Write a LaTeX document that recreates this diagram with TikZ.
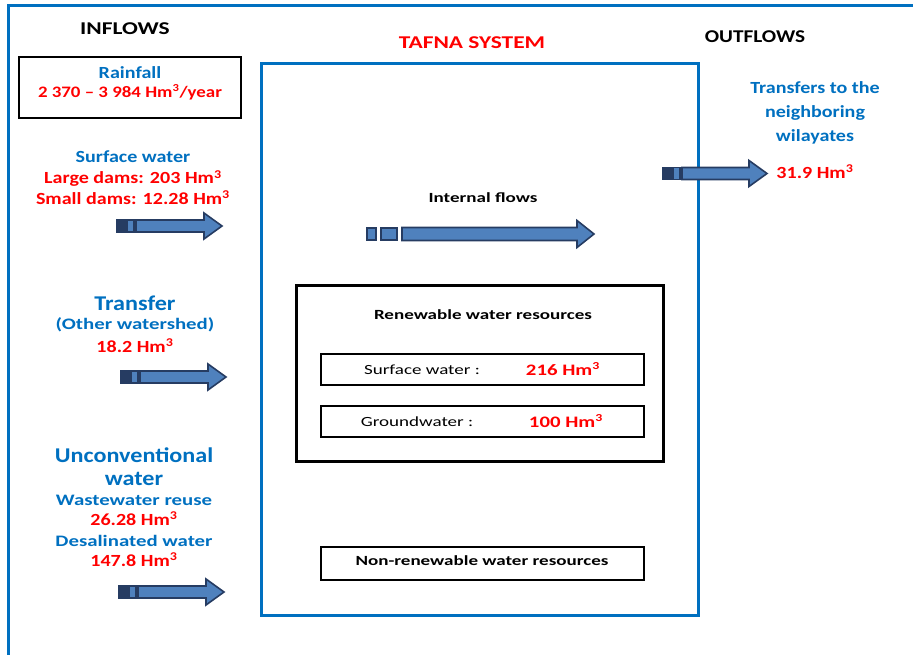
\documentclass[tikz,border=0pt]{standalone}
\usepackage{fontspec}
\setmainfont{Carlito}
\newfontfamily\wideA[FakeStretch=1.18, Ligatures=TeX]{Carlito}
\newfontfamily\wideB[FakeStretch=1.3, Ligatures=TeX]{Carlito}
\newfontfamily\wideC[FakeStretch=1.36, Ligatures=TeX]{Carlito}
\newfontfamily\wideD[FakeStretch=1.15, Ligatures=TeX]{Carlito}
\usepackage{xcolor}
\usepackage{tikz}
\usetikzlibrary{positioning}
\definecolor{tblue}{RGB}{0,112,192}
\definecolor{tred}{RGB}{255,0,0}
\definecolor{arrfill}{RGB}{79,129,189}
\definecolor{arrnavy}{RGB}{38,60,98}

\begin{document}
\begin{tikzpicture}[x=0.75pt, y=-0.75pt, inner sep=0pt,
    title/.style={font=\wideB\fontsize{13.5}{16}\selectfont\bfseries},
    lbl/.style={font=\wideA\fontsize{12.75}{15.4}\selectfont\bfseries, align=center},
    big/.style={font=\wideD\fontsize{15.75}{18}\selectfont\bfseries, text=tblue},
    mid/.style={font=\wideB\fontsize{12}{15}\selectfont\bfseries, text=tblue},
    val/.style={font=\wideA\fontsize{12.75}{15}\selectfont\bfseries, text=tred},
    boxval/.style={font=\wideB\fontsize{12}{14}\selectfont\bfseries, text=tred},
    small/.style={font=\wideC\fontsize{10.5}{13}\selectfont\bfseries},
    plain/.style={font=\wideC\fontsize{10.5}{13}\selectfont},
    b/.style={draw, line width=1pt},
    stripe/.style={draw=arrnavy, line width=1.2pt, fill=arrfill},
    flowarrow/.pic={
      \draw[stripe, fill=arrnavy] (-19,-6) rectangle (-11,6);
      \draw[stripe] (-9,-6) rectangle (-2,6);
      \draw[stripe] (0,-6) -- (#1-18,-6) -- (#1-18,-13) -- (#1,0)
        -- (#1-18,13) -- (#1-18,6) -- (0,6) -- cycle;
    }]
    \useasboundingbox (0,0) rectangle (913,655);
    \draw[tblue, line width=2.25pt] (8,655) -- (8,6) -- (913,6);

    % headings
    \node[title] (inflows) at (125,29) {INFLOWS};
    \node[title, text=tred] (tafna) at (472,43) {TAFNA SYSTEM};
    \node[title, font=\wideA\fontsize{13.5}{16}\selectfont\bfseries] (outflows) at (755,37) {OUTFLOWS};

    % inflows
    \node[b, minimum width=166.5pt, minimum height=45.75pt] (rain) at (130,87.5) {};
    \node[lbl, text=tblue] (rainl) at (130,73) {Rainfall};
    \node[lbl, text=tred, font=\wideA\fontsize{12}{15}\selectfont\bfseries] (rainv) at (130,92) {2 370 -- 3 984 Hm\textsuperscript{3}/year};

    \node[lbl, text=tblue] (surf) at (133,157) {Surface water};
    \node[lbl, text=tred] (surfv) at (133,187.5) {Large dams: 203 Hm\textsuperscript{3}\\Small dams: 12.28 Hm\textsuperscript{3}};
    \pic at (136,226) {flowarrow=86};

    \node[big] (transfer) at (135,303) {Transfer};
    \node[mid] (transw) at (135,325) {(Other watershed)};
    \node[val] (transv) at (135,346) {18.2 Hm\textsuperscript{3}};
    \pic at (140,377) {flowarrow=86};

    \node[big, align=center, font=\wideD\fontsize{15.75}{17.5}\selectfont\bfseries] (uncon) at (134,466.5) {Unconventional\\water};
    \node[mid] (reuse) at (134,500) {Wastewater reuse};
    \node[val] (reusev) at (134,519) {26.28 Hm\textsuperscript{3}};
    \node[mid] (desal) at (134,541) {Desalinated water};
    \node[val] (desalv) at (134,560) {147.8 Hm\textsuperscript{3}};
    \pic at (138,592) {flowarrow=86};

    % system
    \node[draw=tblue, line width=2.25pt, minimum width=327.75pt, minimum height=413.25pt] (system) at (479.5,339.5) {};
    \node[small] (internal) at (483,198) {Internal flows};
    \draw[stripe] (367,228) rectangle (376,240);
    \draw[stripe] (381,228) rectangle (397,240);
    \draw[stripe] (402,227.5) -- (577,227.5) -- (577,220.5) -- (594,234) -- (577,247.5)
      -- (577,240.5) -- (402,240.5) -- cycle;

    \node[draw, line width=2.25pt, minimum width=275.25pt, minimum height=131.25pt] (renew) at (479.5,373.5) {};
    \node[small] (renewl) at (483,315) {Renewable water resources};
    \node[b, minimum width=242.25pt, minimum height=23.25pt] (surfbox) at (482.5,369.5) {};
    \node[plain] (surfl) at (422,369.5) {Surface water :};
    \node[boxval] (surfn) at (563,369) {216 Hm\textsuperscript{3}};
    \node[b, minimum width=242.25pt, minimum height=23.25pt] (groundbox) at (482.5,421.5) {};
    \node[plain] (groundl) at (417,421.5) {Groundwater :};
    \node[boxval] (groundn) at (566,421) {100 Hm\textsuperscript{3}};

    \node[b, minimum width=242.25pt, minimum height=24.75pt] (nonrenew) at (482.5,563.5) {};
    \node[small] (nonrenewl) at (482,561) {Non-renewable water resources};

    % outflows
    \node[lbl, text=tblue, font=\wideA\fontsize{12.75}{18}\selectfont\bfseries] (transout) at (815,113) {Transfers to the\\neighboring\\wilayates};
    \pic at (682,173.5) {flowarrow=85};
    \node[val] (transoutv) at (815,172) {31.9 Hm\textsuperscript{3}};
  \end{tikzpicture}
\end{document}
